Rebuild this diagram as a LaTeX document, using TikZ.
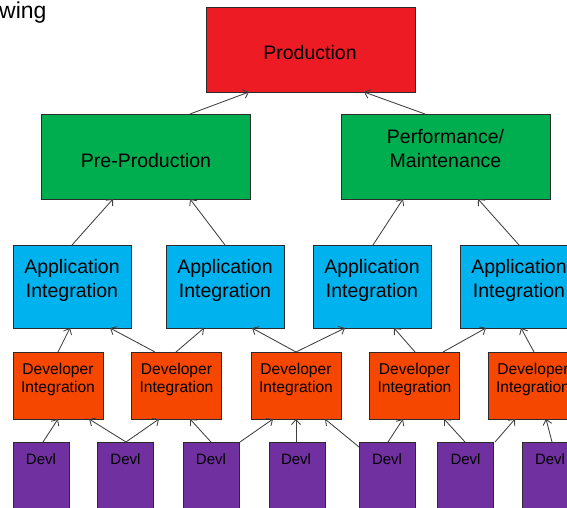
\documentclass[tikz,border=0pt]{standalone}
\usepackage{fontspec}
\setmainfont{Liberation Sans}
\usetikzlibrary{arrows.meta}
\definecolor{prodred}{HTML}{ED1C24}
\definecolor{pregreen}{HTML}{00AD4F}
\definecolor{appcyan}{HTML}{00B2EE}
\definecolor{devorange}{HTML}{F54700}
\definecolor{devlpurple}{HTML}{7030A0}
\definecolor{boxline}{HTML}{2B2B2B}
\definecolor{connline}{HTML}{404040}
\newcommand{\linkup}[4]{\draw[conn] ([xshift=#2pt]#1.north west) -- ([xshift=#4pt]#3.south west);}
\begin{document}
\begin{tikzpicture}[x=1pt,y=-1pt,
  box/.style={draw=boxline, line width=0.9pt, inner sep=0pt, outer sep=0pt, anchor=north west},
  bigbox/.style={box, minimum width=209pt, minimum height=85pt},
  appbox/.style={box, fill=appcyan, minimum width=118pt, minimum height=83pt},
  devbox/.style={box, fill=devorange, minimum width=90pt, minimum height=67pt},
  devlbox/.style={box, fill=devlpurple, minimum width=56pt, minimum height=100pt},
  conn/.style={draw=connline, line width=0.85pt, -{Straight Barb[length=5pt,width=9pt]}},
  biglbl/.style={anchor=base, align=center, text=black, font=\fontsize{19.5}{23.5}\selectfont},
  devlbl/.style={anchor=base, align=center, text=black, font=\fontsize{15.6}{18}\selectfont},
  devllbl/.style={anchor=base, text=black, font=\fontsize{15}{18}\selectfont}
]
\clip (0,0) rectangle (567,508);
\fill[white] (0,0) rectangle (567,508);
\node[anchor=base west, inner sep=0pt, font=\fontsize{23}{26}\selectfont] (cap) at (-1,19) {wing};
% boxes
\node[bigbox, fill=prodred] (p) at (206,7) {};
\node[bigbox, fill=pregreen] (pp) at (41,114) {};
\node[bigbox, fill=pregreen] (pm) at (341,114) {};
\node[appbox] (a1) at (13,245) {};
\node[appbox] (a2) at (166,245) {};
\node[appbox] (a3) at (313,245) {};
\node[appbox] (a4) at (460,245) {};
\node[devbox] (d1) at (13,352) {};
\node[devbox] (d2) at (131,352) {};
\node[devbox] (d3) at (251,352) {};
\node[devbox] (d4) at (369,352) {};
\node[devbox] (d5) at (488,352) {};
\node[devlbox] (v1) at (13,442) {};
\node[devlbox] (v2) at (97,442) {};
\node[devlbox] (v3) at (183,442) {};
\node[devlbox] (v4) at (269,442) {};
\node[devlbox] (v5) at (359,442) {};
\node[devlbox] (v6) at (437,442) {};
\node[devlbox] (v7) at (522,442) {};
% labels (multi-line labels are placed by the baseline of their last line)
\node[biglbl] (pt) at (310,60) {Production};
\node[biglbl] (ppt) at (146,167) {Pre-Production};
\node[biglbl] (pmt) at (445.5,167) {Performance/\\Maintenance};
\node[biglbl] (a1t) at (72,297) {Application\\Integration};
\node[biglbl] (a2t) at (225,297) {Application\\Integration};
\node[biglbl] (a3t) at (372,297) {Application\\Integration};
\node[biglbl] (a4t) at (519,297) {Application\\Integration};
\node[devlbl] (d1t) at (58,392) {Developer\\Integration};
\node[devlbl] (d2t) at (176.5,392) {Developer\\Integration};
\node[devlbl] (d3t) at (296,392) {Developer\\Integration};
\node[devlbl] (d4t) at (414.5,392) {Developer\\Integration};
\node[devlbl] (d5t) at (533,392) {Developer\\Integration};
\node[devllbl] (v1t) at (41,464) {Devl};
\node[devllbl] (v2t) at (125.5,464) {Devl};
\node[devllbl] (v3t) at (211,464) {Devl};
\node[devllbl] (v4t) at (296,464) {Devl};
\node[devllbl] (v5t) at (387,464) {Devl};
\node[devllbl] (v6t) at (465.5,464) {Devl};
\node[devllbl] (v7t) at (550,464) {Devl};
% connectors
\linkup{pp}{149}{p}{43}
\linkup{pm}{84}{p}{158}
\linkup{a1}{59}{pp}{72}
\linkup{a2}{59}{pp}{149}
\linkup{a3}{60}{pm}{62}
\linkup{a4}{59}{pm}{137}
\linkup{d1}{45}{a1}{57}
\linkup{d2}{24}{a1}{97}
\linkup{d2}{45}{a2}{38}
\linkup{d3}{45}{a2}{86}
\linkup{d3}{45}{a3}{32}
\linkup{d4}{46}{a3}{81}
\linkup{d4}{74}{a4}{26}
\linkup{d5}{46}{a4}{61}
\linkup{v1}{30}{d1}{45}
\linkup{v2}{29}{d1}{76}
\linkup{v2}{29}{d2}{28}
\linkup{v3}{28}{d2}{59}
\linkup{v3}{57}{d3}{22}
\linkup{v4}{27}{d3}{45}
\draw[conn] ([yshift=-5pt]v5.north west) -- ([xshift=74pt]d3.south west);
\linkup{v5}{29}{d4}{34}
\linkup{v6}{28}{d4}{75}
\linkup{v6}{58}{d5}{27}
\linkup{v7}{30}{d5}{58}
\end{tikzpicture}
\end{document}
